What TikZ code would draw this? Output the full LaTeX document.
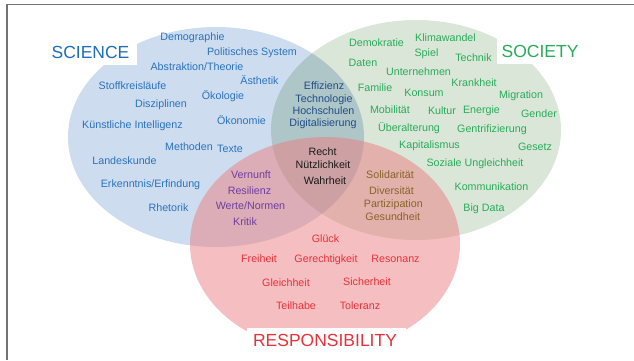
\documentclass[tikz,border=0pt]{standalone}
\usepackage{fontspec}
\setmainfont{Liberation Sans}
\definecolor{blueFill}{RGB}{205,220,238}
\definecolor{greenFill}{RGB}{218,230,215}
\definecolor{redFill}{RGB}{235,125,129}
\definecolor{sciText}{RGB}{41,115,190}
\definecolor{sciLabel}{RGB}{30,110,185}
\definecolor{bgText}{RGB}{30,78,135}
\definecolor{socText}{RGB}{40,172,90}
\definecolor{resText}{RGB}{232,50,58}
\definecolor{purText}{RGB}{110,62,160}
\definecolor{brnText}{RGB}{135,100,40}
\definecolor{ctrText}{RGB}{25,25,25}
\definecolor{frameGray}{RGB}{115,115,115}
\tikzset{
  word/.style={anchor=base, inner sep=0pt, font=\fontsize{10.7}{12}\selectfont},
  sci/.style={word, text=sciText},
  bg/.style={word, text=bgText},
  soc/.style={word, text=socText},
  res/.style={word, text=resText},
  pur/.style={word, text=purText},
  brn/.style={word, text=brnText},
  ctr/.style={word, text=ctrText},
  biglabel/.style={anchor=base, inner sep=0pt, font=\fontsize{17.5}{20}\selectfont},
  labelbox/.style={fill=white, draw=none},
  frameline/.style={draw=frameGray, line width=1.5pt}
}
\begin{document}
\begin{tikzpicture}[x=1pt,y=-1pt]
\useasboundingbox (0,0) rectangle (634,360);
% circles
\fill[blueFill] (216,137) ellipse [x radius=148, y radius=110];
\begin{scope}[blend mode=multiply]
\fill[greenFill] (416,130) ellipse [x radius=145, y radius=110];
\end{scope}
\fill[redFill, fill opacity=0.5] (325,244) ellipse [x radius=135, y radius=107];
% white label boxes
\fill[labelbox] (40,37) rectangle (137,65);
\fill[labelbox] (497,37) rectangle (592,64);
\fill[labelbox] (247,328) rectangle (406,360);
% frame
\draw[frameline] (7,360) -- (7,4.5) -- (634,4.5);
% labels
\node[biglabel, text=sciLabel] (lsci) at (90.5,58.3) {SCIENCE};
\node[biglabel, text=socText] (lsoc) at (540,57.7) {SOCIETY};
\node[biglabel, text=resText] (lres) at (325,346.7) {RESPONSIBILITY};
% science
\node[sci] (s1) at (192.5,40.7) {Demographie};
\node[sci] (s2) at (252,55) {Politisches System};
\node[sci] (s3) at (197,70) {Abstraktion/Theorie};
\node[sci] (s4) at (259.5,84) {Ästhetik};
\node[sci] (s5) at (132.5,89) {Stoffkreisläufe};
\node[sci] (s6) at (223,99.5) {Ökologie};
\node[sci] (s7) at (161,107) {Disziplinen};
\node[sci] (s8) at (132.5,128) {Künstliche Intelligenz};
\node[sci] (s9) at (241.5,124) {Ökonomie};
\node[sci] (s10) at (189,150) {Methoden};
\node[sci] (s11) at (230,152) {Texte};
\node[sci] (s12) at (124.5,164) {Landeskunde};
\node[sci] (s13) at (150.5,187.7) {Erkenntnis/Erfindung};
\node[sci] (s14) at (168.5,211.7) {Rhetorik};
% science & society
\node[bg] (b1) at (324,89.3) {Effizienz};
\node[bg] (b2) at (324,102.3) {Technologie};
\node[bg] (b3) at (323.5,114.3) {Hochschulen};
\node[bg] (b4) at (323,126.7) {Digitalisierung};
% society
\node[soc] (o1) at (376.5,46.7) {Demokratie};
\node[soc] (o2) at (445.5,41.7) {Klimawandel};
\node[soc] (o3) at (426.5,56.7) {Spiel};
\node[soc] (o4) at (473.5,61) {Technik};
\node[soc] (o5) at (363,66.7) {Daten};
\node[soc] (o6) at (418.5,75) {Unternehmen};
\node[soc] (o7) at (375,91.7) {Familie};
\node[soc] (o8) at (424,96.7) {Konsum};
\node[soc] (o9) at (474,86.7) {Krankheit};
\node[soc] (o10) at (521,98.7) {Migration};
\node[soc] (o11) at (390,113.3) {Mobilität};
\node[soc] (o12) at (442,114) {Kultur};
\node[soc] (o13) at (481.5,113.3) {Energie};
\node[soc] (o14) at (539,117.3) {Gender};
\node[soc] (o15) at (409,131.7) {Überalterung};
\node[soc] (o16) at (492,132.7) {Gentrifizierung};
\node[soc] (o17) at (429.5,148.3) {Kapitalismus};
\node[soc] (o18) at (535,150) {Gesetz};
\node[soc] (o19) at (475,166) {Soziale Ungleichheit};
\node[soc] (o20) at (491.5,190.7) {Kommunikation};
\node[soc] (o21) at (484,211.7) {Big Data};
% center
\node[ctr] (c1) at (322.5,155) {Recht};
\node[ctr] (c2) at (323,168.5) {Nützlichkeit};
\node[ctr] (c3) at (325,184) {Wahrheit};
% science & responsibility
\node[pur] (p1) at (251,178.3) {Vernunft};
\node[pur] (p2) at (249.5,194.7) {Resilienz};
\node[pur] (p3) at (250.5,209.5) {Werte/Normen};
\node[pur] (p4) at (245,225.5) {Kritik};
% society & responsibility
\node[brn] (r1) at (390,178.8) {Solidarität};
\node[brn] (r2) at (391.5,194.2) {Diversität};
\node[brn] (r3) at (393.3,207.4) {Partizipation};
\node[brn] (r4) at (392.8,220) {Gesundheit};
% responsibility
\node[res] (e1) at (325.5,242.3) {Glück};
\node[res] (e2) at (259,262.7) {Freiheit};
\node[res] (e3) at (326,262.3) {Gerechtigkeit};
\node[res] (e4) at (395.5,262.3) {Resonanz};
\node[res] (e5) at (286,286) {Gleichheit};
\node[res] (e6) at (367,285.7) {Sicherheit};
\node[res] (e7) at (296,309.3) {Teilhabe};
\node[res] (e8) at (360,309) {Toleranz};
\end{tikzpicture}
\end{document}
